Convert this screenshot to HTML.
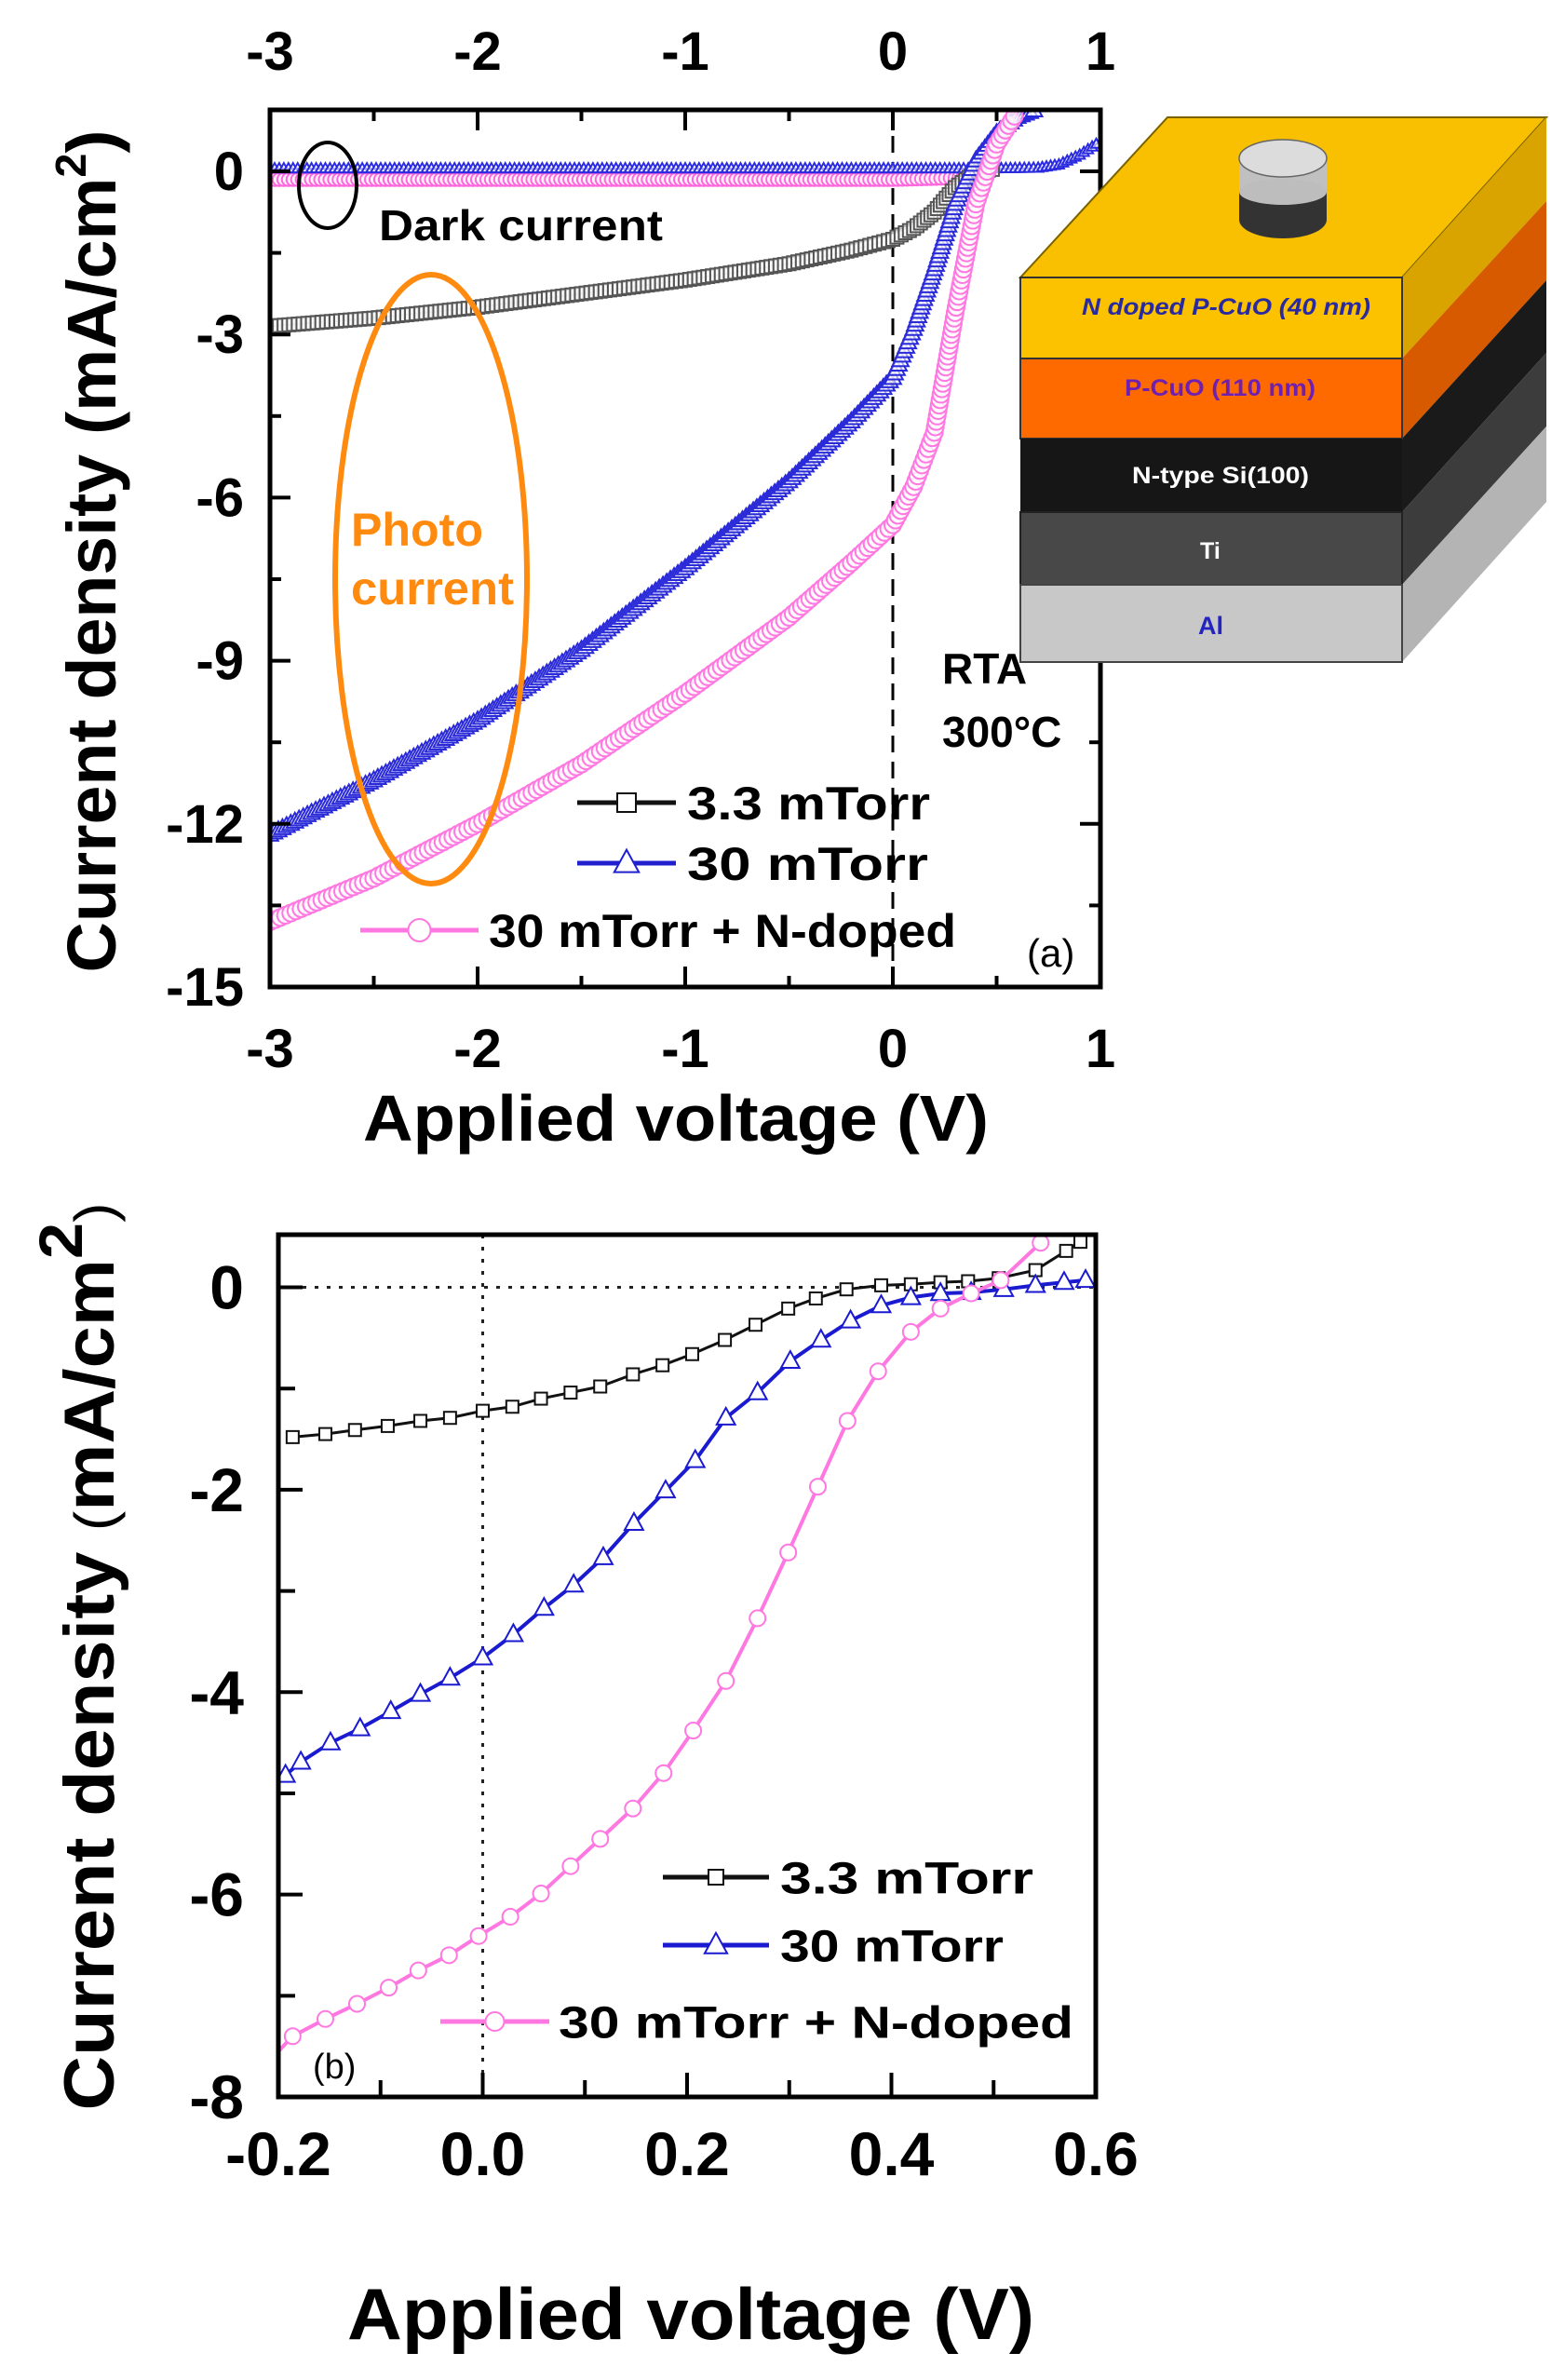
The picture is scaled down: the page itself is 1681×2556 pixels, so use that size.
<!DOCTYPE html>
<html><head><meta charset="utf-8">
<style>
html,body{margin:0;padding:0;background:#fff;}
svg{display:block;font-family:"Liberation Sans",Arial,sans-serif;}
</style></head>
<body>
<svg id="fig" width="1681" height="2556" viewBox="0 0 1681 2556" xmlns="http://www.w3.org/2000/svg">
<g id="gA"></g>
<g id="gB"></g>
<g id="inset">
  <polygon points="1096,298 1254,126 1661,126 1506,298" fill="#f8c000" stroke="#7a6200" stroke-width="2"/>
  <polygon points="1506,298 1661,126 1661,216 1506,385" fill="#d9a400"/>
  <polygon points="1506,385 1661,216 1661,301 1506,471" fill="#d85a00"/>
  <polygon points="1506,471 1661,301 1661,379 1506,550" fill="#1a1a1a"/>
  <polygon points="1506,550 1661,379 1661,458 1506,628" fill="#3c3c3c"/>
  <polygon points="1506,628 1661,458 1661,539 1506,711" fill="#b4b4b4"/>
  <rect x="1096" y="298" width="410" height="87" fill="#fcc200" stroke="#333" stroke-width="2"/>
  <rect x="1096" y="385" width="410" height="86" fill="#ff6a00" stroke="#333" stroke-width="2"/>
  <rect x="1096" y="471" width="410" height="79" fill="#161616"/>
  <rect x="1096" y="550" width="410" height="78" fill="#484848" stroke="#222" stroke-width="2"/>
  <rect x="1096" y="628" width="410" height="83" fill="#c8c8c8" stroke="#444" stroke-width="2"/>
  <g>
    <rect x="1331" y="170" width="94" height="66" fill="#333"/>
    <ellipse cx="1378" cy="236" rx="47" ry="20" fill="#333"/>
    <rect x="1331" y="170" width="94" height="36" fill="#c0c0c0"/>
    <ellipse cx="1378" cy="206" rx="47" ry="14" fill="#bdbdbd"/>
    <ellipse cx="1378" cy="170" rx="47" ry="20" fill="#dcdcdc" stroke="#666" stroke-width="1.5"/>
  </g>
  <text x="1162" y="338" font-size="25" font-weight="bold" font-style="italic" fill="#2a2aa0" textLength="310" lengthAdjust="spacingAndGlyphs">N  doped P-CuO (40 nm)</text>
  <text x="1208" y="425" font-size="25" font-weight="bold" fill="#7020b0" textLength="205" lengthAdjust="spacingAndGlyphs">P-CuO (110 nm)</text>
  <text x="1216" y="519" font-size="25" font-weight="bold" fill="#fff" textLength="190" lengthAdjust="spacingAndGlyphs">N-type Si(100)</text>
  <text x="1289" y="600" font-size="25" font-weight="bold" fill="#fff">Ti</text>
  <text x="1287" y="681" font-size="27" font-weight="bold" fill="#2424c0">Al</text>
</g>
</svg>
<script>
// ---------- Plot (a) data ----------
const aX_black=[-3,-2.5,-2,-1.5,-1,-0.5,-0.2,0,0.1,0.2,0.3,0.4,0.5];
const aY_black=[-2.85,-2.7,-2.5,-2.25,-2.0,-1.7,-1.45,-1.25,-1.05,-0.75,-0.3,-0.02,0.05];
const aX_blue=[-3,-2.5,-2,-1.5,-1,-0.5,-0.2,0,0.1,0.2,0.3,0.4,0.5,0.6,0.7];
const aY_blue=[-12.2,-11.2,-10.1,-8.8,-7.3,-5.7,-4.6,-3.8,-2.9,-1.8,-0.6,0.2,0.7,1.0,1.15];
const aX_pink=[-3,-2.5,-2,-1.5,-1,-0.5,-0.2,0,0.1,0.2,0.3,0.4,0.5,0.6];
const aY_pink=[-13.8,-13.0,-12.0,-10.9,-9.6,-8.2,-7.2,-6.5,-5.8,-4.8,-2.6,-0.6,0.5,1.1];
const aX_blueDark=[-3,-2,-1,0,0.5,0.7,0.8,0.9,1];
const aY_blueDark=[0.05,0.05,0.05,0.05,0.05,0.06,0.12,0.3,0.55];
const aX_pinkDark=[-3,-2,-1,0,0.3,0.4];
const aY_pinkDark=[-0.15,-0.15,-0.15,-0.15,-0.12,-0.05];
const aXTicks=[-3,-2,-1,0,1];
const aYTicks=[0,-3,-6,-9,-12,-15];
// ---------- Plot (b) data ----------
const bX_black=[-0.186,-0.154,-0.125,-0.093,-0.061,-0.032,0.0,0.029,0.057,0.086,0.115,0.147,0.176,0.205,0.237,0.267,0.299,0.326,0.356,0.39,0.419,0.448,0.475,0.505,0.541,0.571,0.585];
const bY_black=[-1.48,-1.45,-1.41,-1.37,-1.32,-1.29,-1.22,-1.18,-1.1,-1.04,-0.98,-0.86,-0.77,-0.66,-0.52,-0.37,-0.21,-0.11,-0.02,0.02,0.03,0.05,0.06,0.09,0.17,0.36,0.45];
const bX_blue=[-0.193,-0.178,-0.149,-0.12,-0.09,-0.061,-0.032,0.0,0.03,0.06,0.089,0.118,0.148,0.179,0.208,0.238,0.269,0.301,0.331,0.36,0.39,0.419,0.448,0.478,0.51,0.541,0.569,0.59];
const bY_blue=[-4.82,-4.69,-4.5,-4.36,-4.19,-4.02,-3.86,-3.66,-3.43,-3.17,-2.94,-2.67,-2.33,-2.01,-1.71,-1.29,-1.04,-0.73,-0.52,-0.33,-0.18,-0.1,-0.06,-0.05,-0.02,0.02,0.05,0.07];
const bX_pink=[-0.2,-0.186,-0.154,-0.123,-0.092,-0.063,-0.033,-0.004,0.027,0.057,0.086,0.115,0.147,0.177,0.206,0.238,0.269,0.299,0.328,0.357,0.387,0.419,0.448,0.478,0.507,0.546];
const bY_pink=[-7.55,-7.4,-7.23,-7.08,-6.92,-6.75,-6.6,-6.41,-6.22,-5.99,-5.72,-5.45,-5.15,-4.8,-4.38,-3.89,-3.27,-2.62,-1.97,-1.32,-0.83,-0.44,-0.21,-0.06,0.07,0.44];
const bXTicks=[-0.2,0.0,0.2,0.4,0.6];
const bXTickLabels=["-0.2","0.0","0.2","0.4","0.6"];
const bYTicks=[0,-2,-4,-6,-8];

const NS="http://www.w3.org/2000/svg";
function mk(parent,tag,attrs,text){const e=document.createElementNS(NS,tag);for(const k in attrs)e.setAttribute(k,attrs[k]);if(text!==undefined)e.textContent=text;parent.appendChild(e);return e;}

const A={x0:290,x1:1182,y0:118,y1:1060,xmin:-3,xmax:1,ymin:-15,ymax:1.13};
const ax=v=>A.x0+(v-A.xmin)/(A.xmax-A.xmin)*(A.x1-A.x0);
const ay=v=>A.y1-(v-A.ymin)/(A.ymax-A.ymin)*(A.y1-A.y0);
const B={x0:299,x1:1177,y0:1326,y1:2252,xmin:-0.2,xmax:0.6,ymin:-8,ymax:0.52};
const bx=v=>B.x0+(v-B.xmin)/(B.xmax-B.xmin)*(B.x1-B.x0);
const by=v=>B.y1-(v-B.ymin)/(B.ymax-B.ymin)*(B.y1-B.y0);

function marker(g,type,x,y,s,col,fill,name){
  let e;
  if(type==='sq'){e=mk(g,'rect',{x:x-s/2,y:y-s/2,width:s,height:s,fill:fill,stroke:col,'stroke-width':2});}
  else if(type==='tri'){e=mk(g,'polygon',{points:`${x},${y-s*0.6} ${x-s*0.55},${y+s*0.4} ${x+s*0.55},${y+s*0.4}`,fill:fill,stroke:col,'stroke-width':2});}
  else {e=mk(g,'circle',{cx:x,cy:y,r:s/2,fill:fill,stroke:col,'stroke-width':2});}
  
  
}
function series(g,xs,ys,fx,fy,clip,col,lw,type,s,dense,name,skipFirst){
  const sg=mk(g,'g',{'clip-path':clip});
  
  
  const pts=xs.map((v,i)=>[fx(v),fy(ys[i])]);
  const line=mk(sg,'polyline',{points:pts.map(p=>p.join(',')).join(' '),fill:'none',stroke:col,'stroke-width':lw});
  
  
  if(dense){
    for(let i=0;i<pts.length-1;i++){
      const [x1,y1]=pts[i],[x2,y2]=pts[i+1];const L=Math.hypot(x2-x1,y2-y1);const n=Math.max(1,Math.round(L/dense));
      for(let k=0;k<n;k++){const t=k/n;marker(sg,type,x1+(x2-x1)*t,y1+(y2-y1)*t,s,col,'rgba(255,255,255,0.6)',name+'-marker');}
    }
  } else {
    pts.forEach((p,i)=>{if(skipFirst&&i===0)return;marker(sg,type,p[0],p[1],s,col,'#fff',name+'-marker');});
  }
}

const svg=document.getElementById('fig');
const defs=mk(svg,'defs',{});
const c1=mk(defs,'clipPath',{id:'clipA'});mk(c1,'rect',{x:A.x0,y:A.y0,width:A.x1-A.x0,height:A.y1-A.y0});
const c2=mk(defs,'clipPath',{id:'clipB'});mk(c2,'rect',{x:B.x0,y:B.y0,width:B.x1-B.x0,height:B.y1-B.y0});

// ---------- Plot (a) ----------
const gA=document.getElementById('gA');
mk(gA,'line',{x1:ax(0),y1:A.y0,x2:ax(0),y2:A.y1,stroke:'#000','stroke-width':3,'stroke-dasharray':'18,10'});
series(gA,aX_pinkDark,aY_pinkDark,ax,ay,'url(#clipA)','#ff66dd',2,'circ',14,5,'dark-pink');
series(gA,aX_blueDark,aY_blueDark,ax,ay,'url(#clipA)','#2a2ae0',2,'tri',10,5,'dark-blue');
series(gA,aX_black,aY_black,ax,ay,'url(#clipA)','#555',2,'sq',14,5,'series-3-3-mtorr');
series(gA,aX_blue,aY_blue,ax,ay,'url(#clipA)','#2a2ad8',2,'tri',16,5,'series-30-mtorr');
series(gA,aX_pink,aY_pink,ax,ay,'url(#clipA)','#ff77e0',2,'circ',18,6,'series-30-mtorr-n-doped');
mk(gA,'rect',{x:A.x0,y:A.y0,width:A.x1-A.x0,height:A.y1-A.y0,fill:'none',stroke:'#000','stroke-width':5});
for(let v=-3;v<=1;v+=0.5){const major=Number.isInteger(v);const L=major?22:12;
  mk(gA,'line',{x1:ax(v),y1:A.y1,x2:ax(v),y2:A.y1-L,stroke:'#000','stroke-width':4});
  mk(gA,'line',{x1:ax(v),y1:A.y0,x2:ax(v),y2:A.y0+L,stroke:'#000','stroke-width':4});}
for(let v=-15;v<=0;v+=1.5){const major=(v%3===0);const L=major?22:12;
  mk(gA,'line',{x1:A.x0,y1:ay(v),x2:A.x0+L,y2:ay(v),stroke:'#000','stroke-width':4});
  mk(gA,'line',{x1:A.x1,y1:ay(v),x2:A.x1-L,y2:ay(v),stroke:'#000','stroke-width':4});}
aXTicks.forEach(v=>{
  let t=mk(gA,'text',{x:ax(v),y:1146,'font-size':58,'font-weight':'bold','text-anchor':'middle'},String(v));
  
  t=mk(gA,'text',{x:ax(v),y:75,'font-size':58,'font-weight':'bold','text-anchor':'middle'},String(v));
  
});
aYTicks.forEach(v=>{
  const t=mk(gA,'text',{x:262,y:ay(v)+20,'font-size':58,'font-weight':'bold','text-anchor':'end'},String(v));
  
});
let t;
t=mk(gA,'text',{x:726,y:1225,'font-size':70,'font-weight':'bold','text-anchor':'middle',textLength:672,lengthAdjust:'spacingAndGlyphs'},'Applied voltage (V)');

t=mk(gA,'text',{transform:'translate(124,592) rotate(-90)','font-size':74,'font-weight':'bold','text-anchor':'middle',textLength:905,lengthAdjust:'spacingAndGlyphs'});

t.innerHTML='Current density (mA/cm<tspan font-size="46" dy="-32">2</tspan><tspan dy="32">)</tspan>';
mk(gA,'ellipse',{cx:352,cy:199,rx:31,ry:46,fill:'none',stroke:'#000','stroke-width':4});
t=mk(gA,'text',{x:407,y:258,'font-size':46,'font-weight':'bold',textLength:305,lengthAdjust:'spacingAndGlyphs'},'Dark current');
mk(gA,'ellipse',{cx:463,cy:622,rx:103,ry:327,fill:'none',stroke:'#ff8a10','stroke-width':6});
t=mk(gA,'text',{x:377,y:586,'font-size':50,'font-weight':'bold',fill:'#ff8a10',textLength:142,lengthAdjust:'spacingAndGlyphs'},'Photo');
t=mk(gA,'text',{x:377,y:649,'font-size':50,'font-weight':'bold',fill:'#ff8a10',textLength:175,lengthAdjust:'spacingAndGlyphs'},'current');
t=mk(gA,'text',{x:1012,y:734,'font-size':46,'font-weight':'bold'},'RTA');
t=mk(gA,'text',{x:1012,y:802,'font-size':46,'font-weight':'bold'},'300°C');
function legend(g,x1,x2,y,col,type,s,label,tx,fs,tl,name){
  const lg=mk(g,'g',{});
  mk(lg,'line',{x1:x1,y1:y,x2:x2,y2:y,stroke:col,'stroke-width':5});
  marker(lg,type,(x1+x2)/2,y,s,col,'#fff',name+'-marker');
  const tt=mk(lg,'text',{x:tx,y:y+fs*0.36,'font-size':fs,'font-weight':'bold',textLength:tl,lengthAdjust:'spacingAndGlyphs'},label);
  
}
legend(gA,620,726,862,'#111','sq',20,'3.3 mTorr',738,50,261,'legend-a-3-3-mtorr');
legend(gA,620,726,927,'#2020d0','tri',24,'30  mTorr',738,50,259,'legend-a-30-mtorr');
legend(gA,387,514,999,'#ff77e0','circ',24,'30 mTorr + N-doped',525,50,502,'legend-a-n-doped');
t=mk(gA,'text',{x:1103,y:1038,'font-size':42},'(a)');

// ---------- Plot (b) ----------
const gB=document.getElementById('gB');
mk(gB,'line',{x1:bx(0),y1:B.y0,x2:bx(0),y2:B.y1+10,stroke:'#222','stroke-width':3,'stroke-dasharray':'4,9'});
mk(gB,'line',{x1:B.x0,y1:by(0),x2:B.x1,y2:by(0),stroke:'#222','stroke-width':3,'stroke-dasharray':'4,9'});
series(gB,bX_black,bY_black,bx,by,'url(#clipB)','#111',3,'sq',13,0,'series-b-3-3-mtorr');
series(gB,bX_blue,bY_blue,bx,by,'url(#clipB)','#1a1ad0',4,'tri',18,0,'series-b-30-mtorr');
series(gB,bX_pink,bY_pink,bx,by,'url(#clipB)','#ff77e0',4,'circ',17,0,'series-b-n-doped',true);
mk(gB,'rect',{x:B.x0,y:B.y0,width:B.x1-B.x0,height:B.y1-B.y0,fill:'none',stroke:'#000','stroke-width':5});
for(let v=-0.2;v<=0.601;v+=0.1){const major=Math.abs(Math.round(v*10))%2===0;const L=major?26:18;
  mk(gB,'line',{x1:bx(v),y1:B.y1,x2:bx(v),y2:B.y1-L,stroke:'#000','stroke-width':4});}
for(let v=-8;v<=0;v+=1){const L=(v%2===0)?26:18;
  mk(gB,'line',{x1:B.x0,y1:by(v),x2:B.x0+L,y2:by(v),stroke:'#000','stroke-width':4});}
bXTicks.forEach((v,i)=>{
  const tt=mk(gB,'text',{x:bx(v),y:2336,'font-size':66,'font-weight':'bold','text-anchor':'middle'},bXTickLabels[i]);
  
});
bYTicks.forEach(v=>{
  const tt=mk(gB,'text',{x:262,y:by(v)+23,'font-size':66,'font-weight':'bold','text-anchor':'end'},String(v));
  
});
t=mk(gB,'text',{x:742,y:2512,'font-size':78,'font-weight':'bold','text-anchor':'middle',textLength:738,lengthAdjust:'spacingAndGlyphs'},'Applied voltage (V)');

t=mk(gB,'text',{transform:'translate(122,1779) rotate(-90)','font-size':76,'font-weight':'bold','text-anchor':'middle',textLength:975,lengthAdjust:'spacingAndGlyphs'});

t.innerHTML='Current density <tspan font-weight="normal" font-size="60">(</tspan>mA/cm<tspan font-size="66" dy="-34">2</tspan><tspan dy="34" font-weight="normal" font-size="60">)</tspan>';
legend(gB,712,826,2016,'#111','sq',16,'3.3 mTorr',838,48,272,'legend-b-3-3-mtorr');
legend(gB,712,826,2089,'#1a1ad0','tri',22,'30 mTorr',838,48,240,'legend-b-30-mtorr');
legend(gB,473,590,2171,'#ff77e0','circ',20,'30 mTorr + N-doped',600,48,553,'legend-b-n-doped');
t=mk(gB,'text',{x:336,y:2232,'font-size':38},'(b)');
</script>
</body></html>
